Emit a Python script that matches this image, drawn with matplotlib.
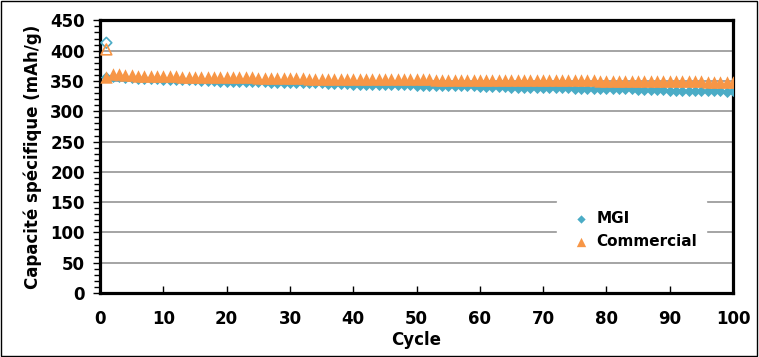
import matplotlib.pyplot as plt
from matplotlib.patches import Rectangle
from matplotlib.ticker import MultipleLocator

plt.rcParams['font.family'] = ['DejaVu Sans']
plt.rcParams['font.weight'] = 'bold'

# cycles 1..100
cycles = list(range(1, 101))

mgi = [357, 356, 356, 355, 355, 354, 354, 353, 353, 352,
       352, 352, 351, 351, 351, 350, 350, 350, 349, 349,
       349, 349, 348, 348, 348, 348, 347, 347, 347, 347,
       346, 346, 346, 346, 346, 345, 345, 345, 345, 344,
       344, 344, 344, 344, 343, 343, 343, 343, 343, 342,
       342, 342, 342, 342, 341, 341, 341, 341, 341, 340,
       340, 340, 340, 340, 339, 339, 339, 339, 339, 338,
       338, 338, 338, 338, 337, 337, 337, 337, 337, 336,
       336, 336, 336, 336, 335, 335, 335, 335, 335, 334,
       334, 334, 334, 334, 333, 333, 333, 333, 332, 333]

commercial = [357, 362, 361, 360, 360, 359, 359, 359, 358, 358,
              358, 358, 357, 357, 357, 357, 357, 356, 356, 356,
              356, 356, 356, 356, 355, 355, 355, 355, 355, 355,
              355, 355, 354, 354, 354, 354, 354, 354, 354, 354,
              354, 354, 353, 353, 353, 353, 353, 353, 353, 353,
              353, 353, 352, 352, 352, 352, 352, 352, 352, 352,
              352, 352, 352, 352, 351, 351, 351, 351, 351, 351,
              351, 351, 351, 351, 351, 351, 351, 351, 350, 350,
              350, 350, 350, 350, 350, 350, 350, 350, 350, 350,
              350, 350, 350, 350, 350, 349, 349, 349, 349, 349]

# first charge points (hollow markers)
first_cycle = [1]
mgi_first = [413]
commercial_first = [402]

blue = '#4BACC6'
orange = '#F79646'

fig = plt.figure(figsize=(7.59, 3.57), dpi=100)
ax = fig.add_axes([0.1318, 0.179, 0.834, 0.764])

ax.scatter(first_cycle, mgi_first, marker='D', s=30,
           facecolors='none', edgecolors=blue, linewidths=1.2, zorder=3)
ax.scatter(first_cycle, commercial_first, marker='^', s=60,
           facecolors='none', edgecolors=orange, linewidths=1.2, zorder=3)
ax.scatter(cycles, mgi, marker='D', s=32, color=blue, linewidths=0,
           label='MGI', zorder=3)
ax.scatter(cycles, commercial, marker='^', s=80, color=orange,
           linewidths=0, label='Commercial', zorder=4)

ax.set_xlim(0, 100)
ax.set_ylim(0, 450)
ax.xaxis.set_major_locator(MultipleLocator(10))
ax.yaxis.set_major_locator(MultipleLocator(50))
ax.yaxis.set_minor_locator(MultipleLocator(10))
ax.tick_params(axis='x', direction='in', length=5, width=1, labelsize=12, pad=12)
ax.tick_params(axis='y', which='major', direction='out', length=5, width=1, labelsize=12, pad=6)
ax.tick_params(axis='y', which='minor', direction='out', length=4, width=1)
for lab in ax.get_xticklabels() + ax.get_yticklabels():
    lab.set_fontweight('bold')

for s in ax.spines.values():
    s.set_linewidth(2.3)

ax.grid(axis='y', color='#959595', linewidth=1.2)
ax.set_axisbelow(True)

ax.set_xlabel('Cycle', fontsize=12, fontweight='bold', labelpad=2)
ax.set_ylabel('Capacité spécifique (mAh/g)', fontsize=12, fontweight='bold', labelpad=6)

leg = ax.legend(loc='lower right', bbox_to_anchor=(0.97, 0.1), frameon=True,
                fancybox=False, edgecolor='white', framealpha=1,
                fontsize=11, handletextpad=0.0, borderpad=0.6,
                labelspacing=0.55, markerscale=0.75)
for t in leg.get_texts():
    t.set_fontweight('bold')

fig.patches.append(Rectangle((0.001, 0.002), 0.997, 0.995, transform=fig.transFigure,
                             fill=False, edgecolor='black', linewidth=1))

plt.savefig('out.png', dpi=100)
